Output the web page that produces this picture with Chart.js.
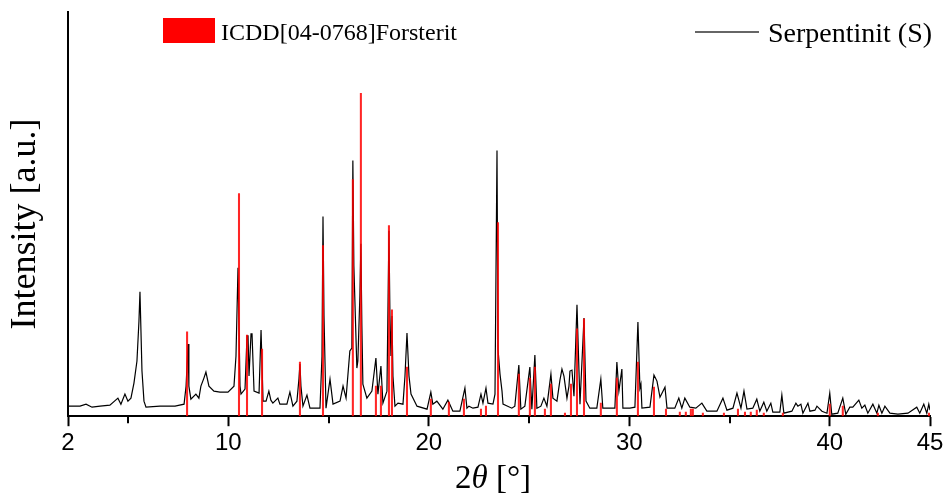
<!DOCTYPE html>
<html>
<head>
<meta charset="utf-8">
<script src="https://cdn.jsdelivr.net/npm/chart.js@4.4.0/dist/chart.umd.min.js"></script>
<style>
  html, body { margin: 0; padding: 0; background: #fff; }
  #wrap { width: 950px; height: 495px; position: relative; }
</style>
</head>
<body>
<div id="wrap"><canvas id="chart" width="950" height="495"></canvas></div>
<script>
// Serpentinit (S) scan, 2theta in degrees / intensity in a.u.
const scanAngle = [
  2.00, 2.60, 2.90, 3.20, 3.60, 4.09, 4.49, 4.64, 4.84, 4.99, 5.14, 5.29, 5.44, 5.54, 5.59, 5.69, 5.79, 5.89,
  6.59, 7.34, 7.79, 7.89, 7.99, 8.03, 8.13, 8.38, 8.53, 8.63, 8.78, 8.88, 9.03, 9.28, 9.58, 9.98,
  10.28, 10.38, 10.48, 10.58, 10.63, 10.83, 10.93, 10.98, 11.03, 11.13, 11.18, 11.28, 11.53, 11.63, 11.73, 11.88,
  12.02, 12.12, 12.22, 12.47, 12.57, 12.92, 13.07, 13.22, 13.42, 13.52, 13.57, 13.62, 13.72, 13.92,
  14.07, 14.57, 14.67, 14.72, 14.77, 14.87, 15.07, 15.22, 15.57, 15.72, 15.87,
  16.06, 16.16, 16.21, 16.26, 16.41, 16.46, 16.56, 16.61, 16.66, 16.71, 16.91, 17.16, 17.36, 17.46, 17.61, 17.71, 17.91,
  18.01, 18.06, 18.11, 18.16, 18.21, 18.31, 18.46, 18.71, 18.81, 18.91, 19.01, 19.11, 19.41, 19.91,
  20.10, 20.20, 20.40, 20.70, 20.95, 21.20, 21.55, 21.80, 21.90, 22.00, 22.20, 22.45, 22.60, 22.70, 22.85, 22.95,
  23.20, 23.30, 23.40, 23.45, 23.55, 23.65, 23.70, 24.14, 24.29, 24.49, 24.59, 24.79,
  25.04, 25.14, 25.29, 25.39, 25.59, 25.74, 25.89, 26.09, 26.19, 26.39, 26.54, 26.64, 26.74, 26.89,
  26.99, 27.04, 27.14, 27.24, 27.39, 27.54, 27.74, 27.84, 28.03, 28.38, 28.58, 28.68,
  29.13, 29.28, 29.38, 29.48, 29.63, 29.68, 30.03, 30.28, 30.43, 30.53, 30.58, 30.63,
  31.03, 31.23, 31.38, 31.53, 31.78, 31.88, 32.27, 32.47, 32.62, 32.77, 33.02, 33.32, 33.62, 33.87,
  34.37, 34.67, 34.87, 35.17, 35.37, 35.57, 35.72, 35.87, 36.16, 36.36, 36.51, 36.71, 36.86,
  37.06, 37.16, 37.51, 37.61, 37.71, 38.11, 38.31, 38.41, 38.56, 38.66, 38.91, 39.01, 39.26, 39.36, 39.61, 39.86,
  40.00, 40.10, 40.40, 40.65, 40.80, 41.00, 41.15, 41.45, 41.60, 41.75, 41.90, 42.15, 42.35, 42.45, 42.60, 42.75,
  43.00, 43.40, 43.90, 44.34, 44.49, 44.69, 44.84, 44.94, 45.00
];
const scanIntensity = [
  10, 10, 12, 9, 10, 11, 18, 12, 22, 15, 18, 33, 55, 95, 124, 45, 15, 9,
  10, 10, 12, 30, 72, 30, 17, 22, 18, 30, 38, 44, 30, 25, 24, 24,
  30, 60, 148, 30, 22, 27, 80, 80, 40, 82, 82, 25, 23, 86, 15, 15,
  25, 16, 13, 18, 12, 12, 24, 10, 15, 37, 52, 30, 10, 21,
  8, 8, 60, 199, 100, 8, 37, 12, 15, 30, 18,
  65, 68, 255, 150, 48, 55, 120, 172, 90, 32, 18, 25, 58, 22, 50, 13, 25,
  185, 100, 60, 100, 40, 10, 13, 12, 40, 83, 40, 22, 10, 7,
  24, 12, 15, 7, 16, 5, 5, 28, 8, 10, 8, 9, 22, 13, 28, 13,
  12, 22, 265, 67, 42, 25, 12, 8, 10, 51, 7, 10,
  49, 7, 61, 8, 10, 18, 10, 42, 18, 15, 36, 47, 40, 18,
  30, 45, 46, 20, 111, 12, 98, 15, 8, 8, 37, 8,
  8, 8, 54, 25, 47, 8, 8, 9, 94, 28, 32, 8,
  9, 41, 35, 19, 29, 8, 8, 18, 8, 18, 9, 8, 13, 5,
  5, 18, 6, 8, 23, 8, 25, 7, 8, 17, 5, 14, 5,
  13, 4, 4, 21, 3, 5, 13, 10, 12, 3, 13, 5, 6, 10, 5, 3,
  23, 2, 3, 18, 2, 9, 9, 16, 8, 11, 3, 12, 3, 11, 3, 10,
  3, 2, 3, 9, 3, 12, 3, 12, 6
];

// ICDD [04-0768] Forsterit reference lines
const refAngle = [
  7.94, 10.53, 10.93, 11.68, 13.57, 14.72, 16.21, 16.61, 17.36, 17.61, 18.01, 18.16, 18.91,
  20.10, 21.00, 21.75, 22.60, 22.85, 23.45, 24.49, 25.04, 25.29, 25.79, 26.09, 26.79, 27.09,
  27.39, 27.74, 28.58, 29.38, 30.43, 31.23, 31.83, 32.52, 32.82, 33.07, 33.17, 33.67, 34.72,
  35.42, 35.77, 36.06, 36.36, 36.71, 37.66, 40.00, 40.65, 42.40, 44.95
];
const refIntensity = [
  84, 222, 81, 67, 54, 170, 236, 322, 30, 30, 190, 106, 49,
  17, 14, 17, 7, 10, 193, 42, 38, 49, 7, 32, 3, 32,
  87, 97, 13, 38, 54, 29, 7, 4, 4, 7, 7, 3, 3,
  7, 4, 4, 6, 3, 3, 12, 10, 3, 3
];

const majorTicks = [2, 10, 20, 30, 40, 45];
const minorTicks = [5, 15, 25, 35];
const seriesNames = ["ICDD[04-0768]Forsterit", "Serpentinit (S)"];

const scanPoints = scanAngle.map((a, i) => ({ x: a, y: scanIntensity[i] }));
const refPoints = refAngle.map((a, i) => ({ x: a, y: refIntensity[i] }));

const serif = '"Liberation Serif", "Times New Roman", serif';

// legend, axis titles and minor ticks
const extras = {
  id: 'extras',
  afterDraw(chart) {
    const ctx = chart.ctx;
    const xs = chart.scales.x;
    const area = chart.chartArea;
    ctx.save();

    ctx.strokeStyle = '#000';
    ctx.lineWidth = 2;
    minorTicks.forEach(v => {
      const px = Math.round(xs.getPixelForValue(v));
      ctx.beginPath();
      ctx.moveTo(px, area.bottom);
      ctx.lineTo(px, area.bottom + 7);
      ctx.stroke();
    });

    // legend entries
    ctx.fillStyle = '#ff0000';
    ctx.fillRect(163, 18, 52, 25);
    ctx.fillStyle = '#000';
    ctx.textBaseline = 'alphabetic';
    ctx.textAlign = 'left';
    ctx.font = '24px ' + serif;
    ctx.fillText(seriesNames[0], 221, 40);

    ctx.strokeStyle = '#333';
    ctx.lineWidth = 1.5;
    ctx.beginPath();
    ctx.moveTo(695, 32);
    ctx.lineTo(759, 32);
    ctx.stroke();
    ctx.font = '28px ' + serif;
    ctx.fillText(seriesNames[1], 768, 42);

    // y title
    ctx.save();
    ctx.translate(35, 224);
    ctx.rotate(-Math.PI / 2);
    ctx.textAlign = 'center';
    ctx.font = '36px ' + serif;
    ctx.fillText('Intensity [a.u.]', 0, 0);
    ctx.restore();

    // x title: 2θ [°] with italic theta
    const parts = [['2', '33px '], ['\u03B8', 'italic 33px '], [' [\u00B0]', '33px ']];
    let total = 0;
    parts.forEach(p => { ctx.font = p[1] + serif; total += ctx.measureText(p[0]).width; });
    let x = (area.left + area.right) / 2 - 6 - total / 2;
    parts.forEach(p => {
      ctx.font = p[1] + serif;
      ctx.fillText(p[0], x, 488);
      x += ctx.measureText(p[0]).width;
    });

    ctx.restore();
  }
};

new Chart(document.getElementById('chart'), {
  type: 'line',
  data: {
    datasets: [
      {
        type: 'bar',
        label: seriesNames[0],
        data: refPoints,
        backgroundColor: 'rgba(255,0,0,0.85)',
        barThickness: 1.4,
        grouped: false,
        order: 0
      },
      {
        type: 'line',
        label: seriesNames[1],
        data: scanPoints,
        borderColor: '#000',
        borderWidth: 1.2,
        pointRadius: 0,
        tension: 0,
        order: 1
      }
    ]
  },
  options: {
    responsive: false,
    animation: false,
    devicePixelRatio: 1,
    layout: { padding: { left: 68, right: 20, top: 12, bottom: 34 } },
    plugins: {
      legend: { display: false },
      tooltip: { enabled: false }
    },
    scales: {
      x: {
        type: 'linear',
        min: 2,
        max: 45,
        offset: false,
        afterBuildTicks: (scale) => {
          scale.ticks = majorTicks.map(v => ({ value: v }));
        },
        grid: {
          offset: false,
          drawOnChartArea: false,
          drawTicks: true,
          tickLength: 10,
          tickWidth: 2,
          tickColor: '#000'
        },
        border: { display: true, color: '#000', width: 2 },
        ticks: {
          color: '#000',
          padding: 3,
          maxRotation: 0,
          autoSkip: false,
          font: { family: '"Liberation Sans", Arial, sans-serif', size: 24 }
        }
      },
      y: {
        min: 0,
        max: 403,
        grid: { display: false, drawTicks: false },
        border: { display: true, color: '#000', width: 2 },
        ticks: { display: false }
      }
    }
  },
  plugins: [extras]
});
</script>
</body>
</html>
